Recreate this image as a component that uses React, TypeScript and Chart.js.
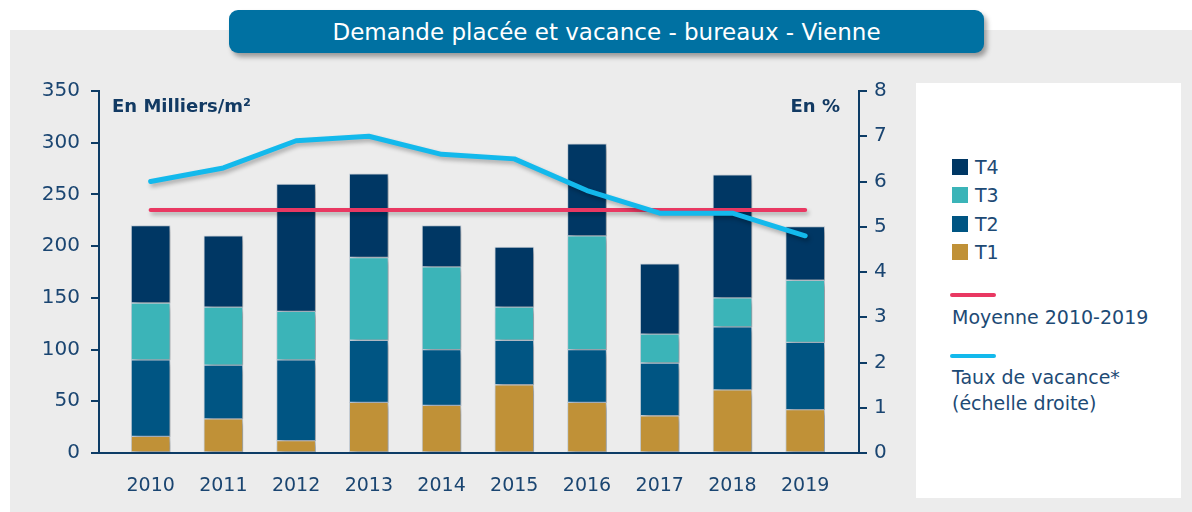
import React, { useEffect, useRef } from "react";
import { Chart, registerables } from "chart.js";

Chart.register(...registerables);

const years = ["2010", "2011", "2012", "2013", "2014", "2015", "2016", "2017", "2018", "2019"];
const t1 = [16, 33, 12, 49, 46, 66, 49, 36, 61, 42];
const t2 = [74, 52, 78, 60, 54, 43, 51, 51, 61, 65];
const t3 = [55, 56, 47, 80, 80, 32, 110, 28, 28, 60];
const t4 = [75, 69, 123, 81, 40, 58, 89, 68, 119, 52];
const moyenne = [235, 235, 235, 235, 235, 235, 235, 235, 235, 235];
const vacance = [6.0, 6.3, 6.9, 7.0, 6.6, 6.5, 5.8, 5.3, 5.3, 4.8];
const leftTicks = [0, 50, 100, 150, 200, 250, 300, 350];
const rightTicks = [0, 1, 2, 3, 4, 5, 6, 7, 8];

const NAVY = "#0d3c66";
const TXT = "#1a4571";
const FONT = "'DejaVu Sans', 'Open Sans', sans-serif";

const toXY = (arr: number[]) => arr.map((v, i) => ({ x: i, y: v }));

const shadowPlugin = {
  id: "shadow",
  beforeDatasetDraw(chart: any, args: any) {
    const ctx = chart.ctx;
    ctx.save();
    const isLine = args.meta.type === "line";
    ctx.shadowColor = "rgba(0,0,0,0.28)";
    ctx.shadowBlur = isLine ? 4 : 6;
    ctx.shadowOffsetX = isLine ? 2 : 4;
    ctx.shadowOffsetY = 3;
  },
  afterDatasetDraw(chart: any) {
    chart.ctx.restore();
  },
};

export default function App() {
  const ref = useRef<HTMLCanvasElement>(null);

  useEffect(() => {
    if (!ref.current) return;
    const barCommon = {
      type: "bar" as const,
      yAxisID: "y",
      stack: "s",
      barThickness: 39,
      order: 2,
      borderWidth: 1,
      borderColor: "rgba(160,180,200,0.45)",
      borderSkipped: false,
    };
    const chart = new Chart(ref.current, {
      type: "bar",
      data: {
        datasets: [
          {
            type: "line",
            label: "Taux de vacance",
            data: toXY(vacance),
            yAxisID: "y1",
            borderColor: "#13b9ec",
            borderWidth: 5,
            pointRadius: 0,
            tension: 0,
            borderCapStyle: "round",
            borderJoinStyle: "round",
            order: 0,
          } as any,
          {
            type: "line",
            label: "Moyenne 2010-2019",
            data: toXY(moyenne),
            yAxisID: "y",
            borderColor: "#e93862",
            borderWidth: 4,
            pointRadius: 0,
            borderCapStyle: "round",
            order: 1,
          } as any,
          { ...barCommon, label: "T1", data: toXY(t1), backgroundColor: "#c09137" } as any,
          { ...barCommon, label: "T2", data: toXY(t2), backgroundColor: "#005583" } as any,
          { ...barCommon, label: "T3", data: toXY(t3), backgroundColor: "#3bb4b8" } as any,
          { ...barCommon, label: "T4", data: toXY(t4), backgroundColor: "#003764" } as any,
        ],
      },
      options: {
        animation: false,
        responsive: false,
        devicePixelRatio: 1,
        layout: { padding: { top: 31, left: 0, right: 0, bottom: 0 } },
        plugins: { legend: { display: false }, tooltip: { enabled: false } },
        scales: {
          x: {
            type: "linear",
            offset: false,
            min: -0.71,
            max: 9.74,
            afterBuildTicks: (axis: any) => {
              axis.ticks = years.map((_, i) => ({ value: i }));
            },
            afterFit: (scale: any) => {
              scale.height = 59;
            },
            grid: { display: false },
            border: { display: true, color: NAVY, width: 2 },
            ticks: {
              autoSkip: false,
              maxRotation: 0,
              padding: 14,
              color: TXT,
              font: { family: FONT, size: 19 },
              callback: (v: any) => years[v as number] ?? "",
            },
          },
          y: {
            type: "linear",
            position: "left",
            stacked: true,
            min: 0,
            max: 350,
            afterBuildTicks: (axis: any) => {
              axis.ticks = leftTicks.map((v) => ({ value: v }));
            },
            afterFit: (scale: any) => {
              scale.width = 99;
            },
            grid: {
              display: true,
              drawOnChartArea: false,
              drawTicks: true,
              tickLength: 8,
              color: NAVY,
              lineWidth: 2,
            },
            border: { display: true, color: NAVY, width: 2 },
            ticks: {
              padding: 11,
              color: TXT,
              font: { family: FONT, size: 20 },
            },
          },
          y1: {
            type: "linear",
            position: "right",
            min: 0,
            max: 8,
            afterBuildTicks: (axis: any) => {
              axis.ticks = rightTicks.map((v) => ({ value: v }));
            },
            afterFit: (scale: any) => {
              scale.width = 41;
            },
            grid: {
              display: true,
              drawOnChartArea: false,
              drawTicks: true,
              tickLength: 8,
              color: NAVY,
              lineWidth: 2,
            },
            border: { display: true, color: NAVY, width: 2 },
            ticks: {
              padding: 7,
              color: TXT,
              font: { family: FONT, size: 20 },
            },
          },
        },
      } as any,
      plugins: [shadowPlugin],
    });
    return () => chart.destroy();
  }, []);

  const legendText: React.CSSProperties = {
    position: "absolute",
    fontFamily: FONT,
    fontSize: 19,
    color: "#1d4a75",
    whiteSpace: "nowrap",
    lineHeight: "22px",
  };
  const sq = (top: number, color: string): React.CSSProperties => ({
    position: "absolute",
    left: 36,
    top,
    width: 16,
    height: 16,
    background: color,
  });

  return (
    <div style={{ position: "absolute", left: 0, top: 0, width: 1192, height: 512, background: "#ffffff", overflow: "hidden" }}>
      <div style={{ position: "absolute", left: 10, top: 30, width: 1182, height: 482, background: "#ececec" }} />
      <div
        style={{
          position: "absolute",
          left: 229,
          top: 10,
          width: 755,
          height: 43,
          background: "#0071a2",
          borderRadius: 9,
          boxShadow: "3px 4px 5px rgba(0,0,0,0.35)",
          color: "#ffffff",
          fontFamily: FONT,
          fontSize: 23,
          fontWeight: 400,
          display: "flex",
          alignItems: "center",
          justifyContent: "center",
        }}
      >
        Demande placée et vacance - bureaux - Vienne
      </div>
      <canvas ref={ref} width={900} height={452} style={{ position: "absolute", left: 0, top: 60, width: 900, height: 452 }} />
      <div style={{ position: "absolute", left: 112, top: 95, fontFamily: FONT, fontSize: 18, fontWeight: 700, color: "#123a63", whiteSpace: "nowrap" }}>
        En Milliers/m²
      </div>
      <div style={{ position: "absolute", left: 760, width: 80, textAlign: "right", top: 95, fontFamily: FONT, fontSize: 18, fontWeight: 700, color: "#123a63" }}>
        En %
      </div>
      <div style={{ position: "absolute", left: 916, top: 83, width: 265, height: 415, background: "#ffffff" }}>
        <div style={sq(76, "#003764")} />
        <div style={{ ...legendText, left: 59, top: 73 }}>T4</div>
        <div style={sq(104, "#3bb4b8")} />
        <div style={{ ...legendText, left: 59, top: 101 }}>T3</div>
        <div style={sq(133, "#005583")} />
        <div style={{ ...legendText, left: 59, top: 130 }}>T2</div>
        <div style={sq(161, "#c09137")} />
        <div style={{ ...legendText, left: 59, top: 158 }}>T1</div>
        <div style={{ position: "absolute", left: 34, top: 210, width: 46, height: 4, borderRadius: 2, background: "#e93862" }} />
        <div style={{ ...legendText, left: 36, top: 223 }}>Moyenne 2010-2019</div>
        <div style={{ position: "absolute", left: 34, top: 271, width: 46, height: 4, borderRadius: 2, background: "#13b9ec" }} />
        <div style={{ ...legendText, left: 36, top: 283 }}>Taux de vacance*</div>
        <div style={{ ...legendText, left: 36, top: 309 }}>(échelle droite)</div>
      </div>
    </div>
  );
}
